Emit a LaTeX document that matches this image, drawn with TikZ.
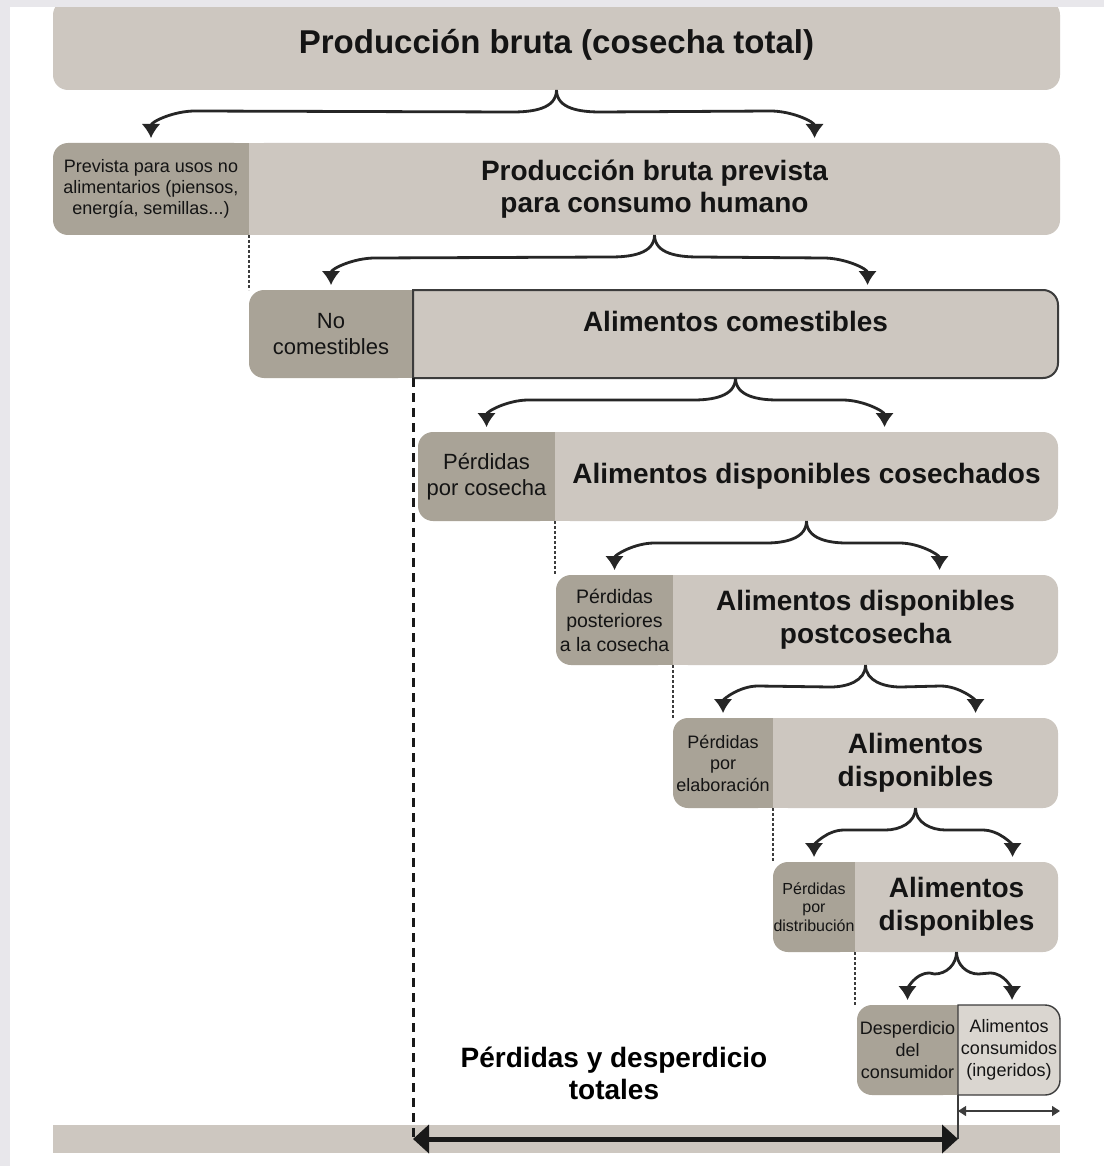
\documentclass[tikz,border=0pt]{standalone}
\usepackage{fontspec}
\setmainfont{Liberation Sans}
\usepackage{tikz}
\usetikzlibrary{arrows.meta,backgrounds}
\definecolor{foodgray}{HTML}{CDC7C0}
\definecolor{lossgray}{HTML}{A9A397}
\definecolor{eatgray}{HTML}{DAD6D0}
\definecolor{framegray}{HTML}{E8E7EB}
\definecolor{linegray}{HTML}{3C3C3C}

\begin{document}
\begin{tikzpicture}[x=1pt,y=1pt]
  \tikzstyle{piece}=[inner sep=0pt, outer sep=0pt, anchor=north west, align=center, text=black!92]
  \tikzstyle{food}=[piece, fill=foodgray, rounded corners=15pt, font=\bfseries\fontsize{28}{32.5}\selectfont]
  \tikzstyle{loss}=[piece, fill=lossgray, rounded corners=15pt]
  \tikzstyle{fork}=[line width=2.8pt, draw=black!85, -{Latex[length=14pt,width=19pt]}, shorten >=5pt]
  \tikzstyle{rim}=[line width=2pt, draw=linegray]
  \tikzstyle{cut}=[line width=1.1pt, draw=linegray, dash pattern=on 3pt off 2pt]
  \useasboundingbox (0,0) rectangle (1104,-1166);

  \node[food, minimum width=1007pt, minimum height=90pt, font=\bfseries\fontsize{33}{38}\selectfont] (box1) at (53,0) {Producción bruta (cosecha total)};
  \fill[framegray] (0,0) rectangle (1104,-7);

  \node[loss, minimum width=196pt, minimum height=92pt, font=\fontsize{18}{21}\selectfont] (loss2) at (53,-143) {Prevista para usos no\\alimentarios (piensos,\\energía, semillas...)};
  \node[food, minimum width=811pt, minimum height=92pt] (food2) at (loss2.north east) {Producción bruta prevista\\para consumo humano};

  \node[loss, minimum width=164pt, minimum height=88pt, font=\fontsize{22}{26}\selectfont] (loss3) at (249,-290) {No\\comestibles};
  \node[food, minimum width=645pt, minimum height=88pt, text height=20pt, text depth=26pt] (food3) at (loss3.north east) {Alimentos comestibles};
  \draw[rim] (food3.north west) -- ([xshift=-15pt]food3.north east) arc[start angle=90,end angle=0,radius=15pt]
    -- ([yshift=15pt]food3.south east) arc[start angle=0,end angle=-90,radius=15pt] -- (food3.south west) -- cycle;

  \node[loss, minimum width=137pt, minimum height=89pt, font=\fontsize{22}{26}\selectfont] (loss4) at (418,-432) {Pérdidas\\por cosecha};
  \node[food, minimum width=503pt, minimum height=89pt] (food4) at (loss4.north east) {Alimentos disponibles cosechados};

  \node[loss, minimum width=117pt, minimum height=90pt, font=\fontsize{19.5}{24}\selectfont] (loss5) at (556,-575) {Pérdidas\\posteriores\\a la cosecha};
  \node[food, minimum width=385pt, minimum height=90pt] (food5) at (loss5.north east) {Alimentos disponibles\\postcosecha};

  \node[loss, minimum width=100pt, minimum height=90pt, font=\fontsize{18}{21.5}\selectfont] (loss6) at (673,-718) {Pérdidas\\por\\elaboración};
  \node[food, minimum width=285pt, minimum height=90pt] (food6) at (loss6.north east) {Alimentos\\disponibles};

  \node[loss, minimum width=82pt, minimum height=90pt, font=\fontsize{16}{18.5}\selectfont] (loss7) at (773,-862) {Pérdidas\\por\\distribución};
  \node[food, minimum width=203pt, minimum height=90pt] (food7) at (loss7.north east) {Alimentos\\disponibles};

  \node[loss, minimum width=101pt, minimum height=90pt, font=\fontsize{18}{22}\selectfont] (loss8) at (857,-1005) {Desperdicio\\del\\consumidor};
  \node[food, fill=eatgray, minimum width=102pt, minimum height=90pt, font=\fontsize{18}{22}\selectfont] (food8) at (loss8.north east) {Alimentos\\consumidos\\(ingeridos)};
  \draw[rim, line width=1.4pt] (food8.north west) -- ([xshift=-15pt]food8.north east) arc[start angle=90,end angle=0,radius=15pt]
    -- ([yshift=15pt]food8.south east) arc[start angle=0,end angle=-90,radius=15pt] -- (food8.south west) -- cycle;

  \node[piece, fill=foodgray, minimum width=1007pt, minimum height=28pt] (bar) at (53,-1125) {};
  \node[font=\bfseries\fontsize{28}{32}\selectfont, align=center] (total) at (614,-1073) {Pérdidas y desperdicio\\totales};

  % square off the inner corners where two parts meet
  \begin{scope}[on background layer]
    \fill[framegray] (0,0) rectangle (1104,-1166);
    \fill[white] (10,-7) rectangle (1104,-1166);
    \foreach \lo/\fo/\col in {loss2/food2/foodgray, loss3/food3/foodgray, loss4/food4/foodgray, loss5/food5/foodgray,
                              loss6/food6/foodgray, loss7/food7/foodgray, loss8/food8/eatgray}{
      \fill[lossgray] ([xshift=-16pt]\lo.north east) rectangle (\lo.south east);
      \fill[\col] (\fo.north west) rectangle ([xshift=16pt]\fo.south west);
    }
  \end{scope}

  \foreach \up/\lft/\rgt/\off/\bnd in {box1/loss2/food2/160/44, food2/loss3/food3/132/44, food3/loss4/food4/78/42,
                                       food4/loss5/food5/74/40, food5/loss6/food6/60/35, food6/loss7/food7/56/30, food7/loss8/food8/3/22}{
    \draw[fork] (\up.south) to[out=-90,in=0] ++(-\bnd,-22) -- ([xshift=\bnd,yshift=32]\lft.north) to[out=180,in=90] (\lft.north);
    \draw[fork] (\up.south) to[out=-90,in=180] ++(\bnd,-22) -- ([xshift=\off-\bnd,yshift=32]\rgt.north) to[out=0,in=90] ([xshift=\off]\rgt.north);
  }

  \foreach \lo/\nx in {loss2/loss3, loss4/loss5, loss5/loss6, loss6/loss7, loss7/loss8}
    \draw[cut] (\lo.south east) -- (\lo.south east |- \nx.north);

  \draw[line width=3pt, black!90, dash pattern=on 9pt off 6pt] (food3.south west) -- (food3.south west |- bar);
  \draw[line width=1.2pt, linegray] (food8.south west) -- (food8.south west |- bar);
  \draw[line width=5pt, black!90, {Triangle[length=16pt,width=28pt]}-{Triangle[length=16pt,width=28pt]}] (food3.south west |- bar) -- (food8.south west |- bar);
  \draw[line width=1.2pt, linegray, {Triangle[length=8pt,width=10pt]}-{Triangle[length=8pt,width=10pt]}] ([yshift=-16pt]food8.south west) -- ([yshift=-16pt]food8.south east);
\end{tikzpicture}
\end{document}
